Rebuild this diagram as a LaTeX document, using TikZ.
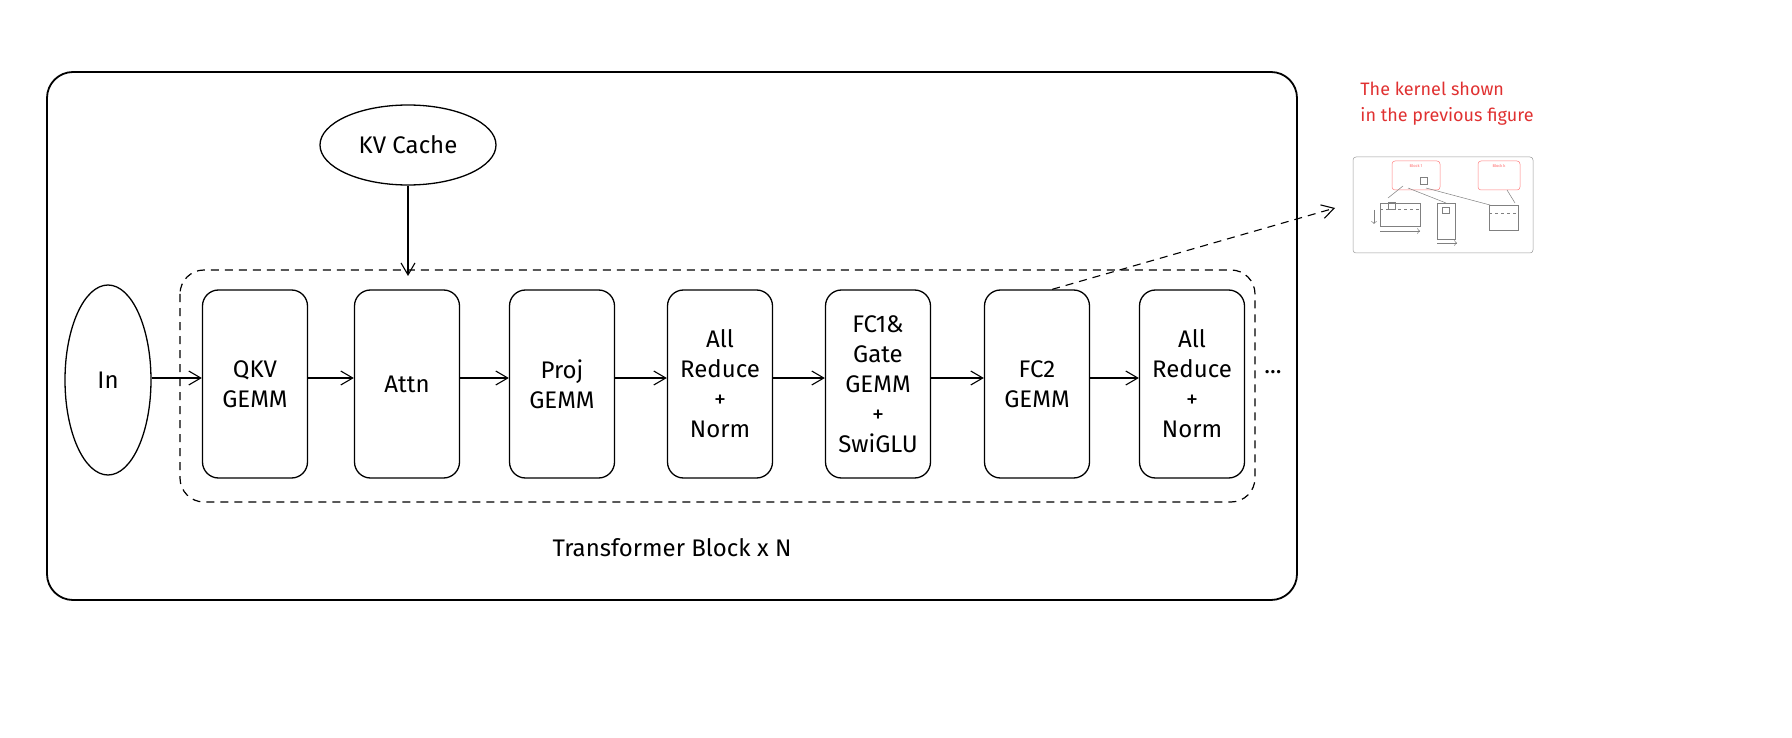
\documentclass[tikz,border=0pt]{standalone}
\usepackage{fontspec}
\setmainfont{Fira Sans}
\usetikzlibrary{arrows.meta,shapes.geometric}
\definecolor{redtxt}{HTML}{E03131}
\begin{document}
\begin{tikzpicture}[x=1pt,y=-1pt,
  blk/.style={draw,line width=1.3pt,rounded corners=16pt,minimum width=105pt,minimum height=188pt,align=center,font=\fontsize{24}{30}\selectfont},
  arr/.style={-{Straight Barb[length=12pt,width=14pt]},line width=1.1pt},
  dsh/.style={dash pattern=on 8pt off 6pt},
  thin/.style={line width=0.5pt}]
\useasboundingbox (0,0) rectangle (1792,738);
\draw[line width=1.8pt,rounded corners=26pt] (47,72) rectangle (1297,600);
\draw[dsh,line width=1.2pt,rounded corners=24pt] (180,270) rectangle (1255,502);
\node[draw,ellipse,line width=1.3pt,minimum width=176pt,minimum height=80pt,font=\fontsize{24}{30}\selectfont] (kv) at (408,145) {KV Cache};
\node[draw,ellipse,line width=1.3pt,minimum width=86pt,minimum height=190pt,font=\fontsize{24}{30}\selectfont] (in) at (108,380) {In};
\node[blk] (qkv) at (255,384) {QKV\\GEMM};
\node[blk] (attn) at (407,384) {Attn};
\node[blk] (proj) at (562,384) {Proj\\GEMM};
\node[blk] (ar1) at (720,384) {All\\Reduce\\+\\Norm};
\node[blk] (fc1) at (878,384) {FC1\&\\Gate\\GEMM\\+\\SwiGLU};
\node[blk] (fc2) at (1037,384) {FC2\\GEMM};
\node[blk] (ar2) at (1192,384) {All\\Reduce\\+\\Norm};
\node[font=\fontsize{24}{30}\selectfont] (dots) at (1273,372) {...};
\coordinate (attnin) at (408,276);
\draw[arr] (kv.south) -- (attnin);
\draw[arr] (in.east |- 0,378) -- (qkv.west |- 0,378);
\draw[arr] (qkv.east |- 0,378) -- (attn.west |- 0,378);
\draw[arr] (attn.east |- 0,378) -- (proj.west |- 0,378);
\draw[arr] (proj.east |- 0,378) -- (ar1.west |- 0,378);
\draw[arr] (ar1.east |- 0,378) -- (fc1.west |- 0,378);
\draw[arr] (fc1.east |- 0,378) -- (fc2.west |- 0,378);
\draw[arr] (fc2.east |- 0,378) -- (ar2.west |- 0,378);
\node[font=\fontsize{24}{30}\selectfont] (lbl) at (672,548) {Transformer Block x N};
\node[text=redtxt,align=left,font=\fontsize{18}{26}\selectfont] (note) at (1447,104) {The kernel shown\\in the previous figure};
% thumbnail
\node[draw=gray!80,rounded corners=3pt,thin,minimum width=180pt,minimum height=96pt,fill=white] (thumb) at (1443,205) {};
\draw[arr,dsh] (fc2.north east) ++(-38,0) coordinate (fcs) -- (1335,208) coordinate (tend);
\begin{scope}[thin]
\draw[red!50,rounded corners=3pt] (1392,161) rectangle (1440,190);
\draw[red!50,rounded corners=3pt] (1478,161) rectangle (1520,190);
\node[red!60,font=\fontsize{4}{5}\selectfont] (b1) at (1416,166) {Block 1};
\node[red!60,font=\fontsize{4}{5}\selectfont] (b2) at (1499,166) {Block k};
\draw[gray] (1420,177) rectangle (1427,184);
\draw[gray] (1403,186) -- (1388,198);
\draw[gray] (1408,188) -- (1446,203);
\draw[gray] (1426,188) -- (1490,205);
\draw[gray] (1507,190) -- (1515,203);
\draw[gray] (1380,203) rectangle (1420,226);
\draw[gray] (1388,202) rectangle (1395,209);
\draw[gray,dashed] (1380,209) -- (1420,209);
\draw[gray] (1437,203) rectangle (1455,239);
\draw[gray] (1442,207) rectangle (1449,213);
\draw[gray] (1489,205) rectangle (1518,230);
\draw[gray,dashed] (1489,213) -- (1518,213);
\draw[gray,->] (1380,231) -- (1420,231);
\draw[gray,->] (1437,243) -- (1457,243);
\draw[gray,->] (1374,210) -- (1374,224);
\end{scope}
\end{tikzpicture}
\end{document}
